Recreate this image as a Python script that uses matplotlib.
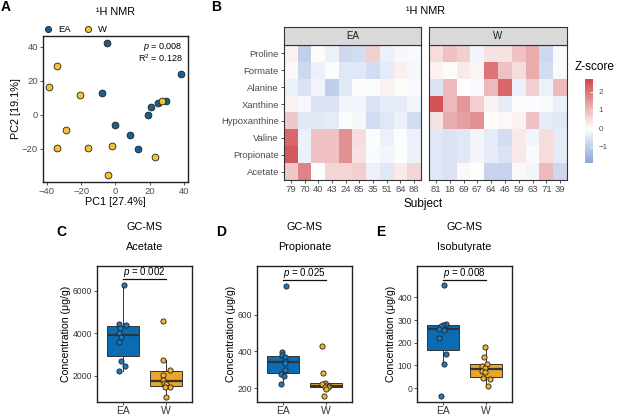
import numpy as np
import matplotlib
matplotlib.use('Agg')
import matplotlib.pyplot as plt
from matplotlib.colors import LinearSegmentedColormap, Normalize

plt.rcParams['font.family'] = ['Liberation Sans', 'DejaVu Sans']
plt.rcParams['mathtext.fontset'] = 'custom'
plt.rcParams['mathtext.rm'] = 'Liberation Sans'
plt.rcParams['mathtext.it'] = 'Liberation Sans:italic'

# ---- panel A: PCA of 1H NMR ----
pca_ea_x = [-5.1, 38.5, -8.0, -0.3, 8.8, 13.3, 19.1, 21.0, 24.7, 29.4]
pca_ea_y = [42.4, 23.9, 12.8, -6.1, -11.8, -20.4, 0.0, 4.6, 7.1, 8.3]
pca_w_x = [-34.2, -38.6, -20.4, -28.8, -34.2, -15.8, -2.2, -4.1, 23.2, 27.2]
pca_w_y = [28.6, 16.2, 11.3, -9.2, -19.4, -19.4, -18.7, -35.6, -25.0, 8.1]

# ---- panel B: z-scores ----
metabolites = ['Proline', 'Formate', 'Alanine', 'Xanthine', 'Hypoxanthine',
               'Valine', 'Propionate', 'Acetate']
ea_subjects = ['79', '70', '40', '43', '24', '85', '35', '51', '84', '88']
w_subjects = ['81', '18', '69', '67', '64', '46', '59', '63', '71', '39']
z_ea = [
    [0.2, -1.0, 0.05, -0.3, -0.8, -0.7, 0.7, -0.3, -0.15, -0.1],
    [0.1, -0.8, -0.3, -0.05, -0.5, -0.5, -0.7, -0.4, 0.25, -0.15],
    [-0.3, -0.6, -0.2, -1.0, -0.5, -0.05, -0.05, 0.2, 0.05, -0.1],
    [0.2, -0.15, -0.6, -0.6, -0.2, -0.2, -0.6, -0.4, -0.4, -0.2],
    [0.8, -0.5, -0.5, -0.4, -0.05, -0.15, -0.7, -0.5, -0.3, -0.7],
    [2.2, -0.3, 0.9, 0.9, 1.6, 0.5, -0.05, -0.3, -0.05, -0.3],
    [2.4, -0.3, 0.9, 0.9, 1.6, 0.4, -0.1, -0.2, -0.05, -0.3],
    [0.8, 1.8, 0.0, 0.6, 0.6, 0.7, -0.3, -0.5, 0.3, 0.6],
]
z_w = [
    [0.5, 0.9, 0.7, -0.2, 0.4, 0.4, 0.9, 1.2, -0.8, -0.1],
    [0.2, 0.05, 0.3, 0.15, 2.0, 0.9, 0.5, 1.2, -0.7, -0.1],
    [-0.6, 1.0, 0.0, -0.1, 1.0, 2.2, -0.3, 0.7, -0.3, 1.0],
    [2.5, 1.0, 1.5, 0.7, 0.2, -0.4, -0.05, -0.05, -0.1, -0.3],
    [0.4, 1.2, 1.4, 1.6, 0.05, 0.1, 0.2, 0.9, -0.4, -0.5],
    [-0.5, -0.6, -0.5, -0.2, -0.4, -0.7, 0.3, -0.2, 0.5, -0.4],
    [-0.5, -0.6, -0.5, -0.2, -0.4, -0.6, 0.3, -0.1, 0.5, -0.4],
    [-0.5, -0.6, 0.1, 0.0, -0.9, -0.9, 0.1, -0.2, 1.0, -0.8],
]
z_min, z_max = -1.89, 2.69

# ---- panels C-E: GC-MS concentrations ----
acetate_ea = [6281, 4437, 4375, 4250, 4016, 3812, 3578, 2718, 2453, 2234]
acetate_w = [4578, 2765, 2266, 2031, 1800, 1680, 1620, 1484, 1469, 1015]
propionate_ea = [755, 396, 379, 370, 350, 335, 300, 277, 268, 221]
propionate_w = [432, 280, 229, 222, 216, 212, 208, 204, 196, 155]
isobutyrate_ea = [457, 283, 278, 272, 262, 256, 223, 151, 107, -37]
isobutyrate_w = [183, 135, 108, 97, 90, 75, 70, 44, 40, 8]

# horizontal jitter of the dots
jit_acetate = ([0.02, -0.1, 0.08, -0.06, -0.08, -0.05, -0.08, -0.04, 0.04, -0.1],
               [-0.07, -0.06, 0.09, -0.07, -0.08, -0.05, 0.0, 0.1, -0.02, 0.0])
jit_propionate = ([0.07, -0.02, -0.02, 0.04, 0.05, 0.05, 0.04, -0.05, 0.03, -0.04],
                  [-0.1, -0.07, -0.03, -0.09, 0.02, 0.07, 0.04, -0.02, 0.0, -0.05])
jit_isobutyrate = ([0.02, 0.07, 0.0, -0.05, -0.08, 0.02, -0.09, 0.07, 0.03, -0.05],
                   [-0.02, -0.05, 0.01, -0.09, -0.03, -0.1, -0.02, -0.07, 0.08, 0.05])

W, H = 617, 416
fig = plt.figure(figsize=(W / 100, H / 100), dpi=100)


def px_axes(x0, y0, x1, y1):
    return fig.add_axes([x0 / W, 1 - y1 / H, (x1 - x0) / W, (y1 - y0) / H])


def ftext(x, y, s, **kw):
    fig.text(x / W, 1 - y / H, s, **kw)


tick_col = '#4D4D4D'

# ================= A =================
ax = px_axes(43, 36, 188, 182)
ax.scatter(pca_ea_x, pca_ea_y, s=24, c='#1A5E8E', edgecolors='#222222', linewidths=0.6, zorder=3, label='EA')
ax.scatter(pca_w_x, pca_w_y, s=24, c='#F1C232', edgecolors='#222222', linewidths=0.6, zorder=3, label='W')
ax.set_xlim(-42.3, 42.4)
ax.set_ylim(-39.7, 46.3)
ax.set_xticks([-40, -20, 0, 20, 40])
ax.set_yticks([-20, 0, 20, 40])
ax.tick_params(labelsize=6.8, colors='#333333', labelcolor=tick_col, length=2.5, width=0.6, pad=1.2)
for sp in ax.spines.values():
    sp.set_linewidth(1.0)
    sp.set_color('#222222')
ax.set_xlabel('PC1 [27.4%]', fontsize=7.8, labelpad=0.5)
ax.set_ylabel('PC2 [19.1%]', fontsize=7.8, labelpad=0.5)
ax.text(0.965, 0.965, '$p$ = 0.008', transform=ax.transAxes, ha='right', va='top', fontsize=6.5)
ax.text(0.965, 0.885, 'R$^2$ = 0.128', transform=ax.transAxes, ha='right', va='top', fontsize=6.5)
ax.legend(loc='lower left', bbox_to_anchor=(-0.06, 0.99), ncol=2, frameon=False, fontsize=6.8,
          handletextpad=0.1, columnspacing=0.8, borderaxespad=0, markerscale=0.9)
ftext(115, 12, '¹H NMR', ha='center', va='center', fontsize=7.8)
ftext(1, 7, 'A', ha='left', va='center', fontsize=10, fontweight='bold')

# ================= B =================
cmap = LinearSegmentedColormap.from_list('zs', ['#5A7ECB', '#FFFFFF', '#D0474B'])
norm = Normalize(vmin=-z_max, vmax=z_max)

panels = [(284, 421, ea_subjects, z_ea, 'EA'), (429, 567, w_subjects, z_w, 'W')]
for i, (x0, x1, subs, z, lab) in enumerate(panels):
    hax = px_axes(x0, 45, x1, 180)
    hax.imshow(np.array(z), aspect='auto', cmap=cmap, norm=norm, interpolation='nearest')
    hax.set_xticks(range(len(subs)))
    hax.set_xticklabels(subs)
    hax.set_yticks(range(len(metabolites)))
    if i == 0:
        hax.set_yticklabels(metabolites)
    else:
        hax.tick_params(axis='y', left=False, labelleft=False)
    hax.tick_params(labelsize=6.8, colors='#333333', labelcolor=tick_col, length=2.5, width=0.6, pad=1.2)
    for sp in hax.spines.values():
        sp.set_linewidth(0.8)
        sp.set_color('#333333')
    sax = px_axes(x0, 27, x1, 45)
    sax.set_facecolor('#D9D9D9')
    sax.set_xticks([])
    sax.set_yticks([])
    for sp in sax.spines.values():
        sp.set_linewidth(0.8)
        sp.set_color('#333333')
    sax.text(0.5, 0.5, lab, transform=sax.transAxes, ha='center', va='center', fontsize=7, color='#1A1A1A')

ftext(425, 11, '¹H NMR', ha='center', va='center', fontsize=7.8)
ftext(423, 204, 'Subject', ha='center', va='center', fontsize=8.5)
ftext(211, 7, 'B', ha='left', va='center', fontsize=10, fontweight='bold')

cax = px_axes(585, 79, 593, 163)
grad = np.linspace(z_min, z_max, 256).reshape(-1, 1)
cax.imshow(grad, aspect='auto', cmap=cmap, norm=norm, origin='lower', extent=[0, 1, z_min, z_max])
cax.set_xticks([])
cax.yaxis.tick_right()
cax.set_yticks([-1, 0, 1, 2])
cax.tick_params(axis='y', labelsize=5.8, labelcolor=tick_col, color='white', direction='in',
                length=2, width=0.6, pad=4)
for sp in cax.spines.values():
    sp.set_visible(False)
ftext(575, 67, 'Z-score', ha='left', va='center', fontsize=8.5)


# ================= C-E =================
def box_panel(x0, ea, w, jit, name, pval, ylim, yticks, bracket_y, letter):
    bax = px_axes(x0, 266, x0 + 95, 402)
    bp = bax.boxplot([ea, w], positions=[1, 2], widths=0.75, patch_artist=True, showfliers=False,
                     showcaps=False, whis=1.5,
                     medianprops=dict(color='#333333', linewidth=1.6),
                     boxprops=dict(edgecolor='#333333', linewidth=0.7),
                     whiskerprops=dict(color='#333333', linewidth=0.7))
    for patch, col in zip(bp['boxes'], ['#0B6CB3', '#E9A62A']):
        patch.set_facecolor(col)
    bax.scatter(1 + np.array(jit[0]), ea, s=14, c='#1C79C0', edgecolors='#222222', linewidths=0.6, zorder=3)
    bax.scatter(2 + np.array(jit[1]), w, s=14, c='#F2B134', edgecolors='#222222', linewidths=0.6, zorder=3)
    bax.plot([1, 2], [bracket_y, bracket_y], color='#111111', lw=0.9)
    bax.text(1.5, bracket_y, '$p$ = ' + pval, ha='center', va='bottom', fontsize=7)
    bax.set_xlim(0.4, 2.6)
    bax.set_ylim(*ylim)
    bax.set_yticks(yticks)
    bax.set_xticks([1, 2])
    bax.set_xticklabels(['EA', 'W'])
    bax.tick_params(axis='y', labelsize=6.2, labelcolor=tick_col)
    bax.tick_params(axis='x', labelsize=7.5, labelcolor='#1A1A1A', pad=0.5)
    bax.tick_params(colors='#333333', length=2.2, width=0.6)
    bax.tick_params(axis='y', pad=1.2)
    for sp in bax.spines.values():
        sp.set_linewidth(1.0)
        sp.set_color('#222222')
    bax.set_ylabel('Concentration (μg/g)', fontsize=7.6, labelpad=1.5)
    cx = x0 + 47.5
    ftext(cx, 227, 'GC-MS', ha='center', va='center', fontsize=7.8)
    ftext(cx, 247, name, ha='center', va='center', fontsize=7.8)
    ftext(x0 - 41, 232, letter, ha='left', va='center', fontsize=10, fontweight='bold')


box_panel(97, acetate_ea, acetate_w, jit_acetate, 'Acetate', '0.002', (766, 7172),
          [2000, 4000, 6000], 6549, 'C')
box_panel(257, propionate_ea, propionate_w, jit_propionate, 'Propionate', '0.025', (124, 866),
          [200, 400, 600], 789, 'D')
box_panel(417, isobutyrate_ea, isobutyrate_w, jit_isobutyrate, 'Isobutyrate', '0.008', (-61.5, 539),
          [0, 100, 200, 300, 400], 479, 'E')

fig.savefig('out.png', dpi=100)
